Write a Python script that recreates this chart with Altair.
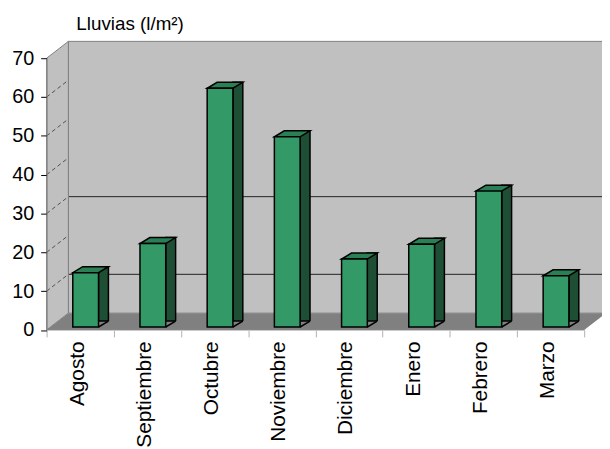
import altair as alt
import pandas as pd

# ---- data -------------------------------------------------------------
TITLE = "Lluvias (l/m²)"
months = ["Agosto", "Septiembre", "Octubre", "Noviembre",
          "Diciembre", "Enero", "Febrero", "Marzo"]
rain = [14, 21.5, 61.5, 49, 17.5, 21.3, 35, 13.2]
y_ticks = [0, 10, 20, 30, 40, 50, 60, 70]
back_lines = [10, 30]
side_lines = [10, 20, 30, 40, 50, 60]

# ---- geometry / style ------------------------------------------------
W, H = 543, 274.5          # front plane of the plot
DX, DY = 22, 17            # depth of the 3D box (px)
BAR_W, BAR_DX, BAR_DY = 26, 10, 6
SHIFT_X, SHIFT_Y = 5.5, 3  # bars sit a little behind the front plane
FONT = "Liberation Sans"
WALL, FLOOR = "#c0c0c0", "#808080"
FRONT, TOP, SIDE = "#339966", "#2a7f54", "#1e4f34"

df = pd.DataFrame({"month": months, "rain": rain})

yscale = alt.Scale(domain=[0, 70], nice=False, zero=True)
ax_y = alt.Axis(title=None, values=y_ticks, domainColor=FLOOR, tickColor="black",
                tickSize=6, labelFont=FONT, labelFontSize=20, labelColor="black",
                labelPadding=7, grid=False, zindex=1)
ax_x = alt.Axis(title=None, orient="bottom", tickBand="extent", domainColor="#c8c8c8",
                tickColor="#b0b0b0", tickSize=7, labelAngle=270, labelAlign="right",
                labelBaseline="middle", labelFont=FONT, labelFontSize=21,
                labelColor="black", labelPadding=4, labelOffset=-3, grid=False, zindex=1)
x_enc = alt.X("month:N", sort=months, scale=alt.Scale(paddingInner=0, paddingOuter=0), axis=ax_x)
y_enc = alt.Y("rain:Q", scale=yscale, axis=ax_y)

one = alt.Data(values=[{}])

# back wall
back = alt.Chart(one).mark_rect(fill=WALL, stroke=FLOOR, strokeWidth=1).encode(
    x=alt.value(DX), x2=alt.value(W + DX + 10), y=alt.value(-DY), y2=alt.value(H - DY))

back_grid = alt.Chart(pd.DataFrame({"v": back_lines})).mark_rule(
    color="#202020", strokeWidth=1, yOffset=-DY).encode(
    y=alt.Y("v:Q", scale=yscale, axis=ax_y), x=alt.value(DX), x2=alt.value(W + DX + 10))

# left side wall
side_df = pd.DataFrame({"px": [0, DX], "top": [0, -DY], "bot": [H, H - DY]})
side_wall = alt.Chart(side_df).mark_area(fill=WALL, stroke=FLOOR, strokeWidth=1,
                                         orient="vertical").encode(
    x=alt.X("px:Q", scale=None), y=alt.Y("top:Q", scale=None), y2=alt.Y2("bot"))

side_grid = alt.Chart(pd.DataFrame({"v": side_lines})).mark_rule(
    color="#505050", strokeDash=[4, 3], strokeWidth=1, y2Offset=-DY).encode(
    y=alt.Y("v:Q", scale=yscale, axis=ax_y), y2=alt.Y2("v"),
    x=alt.value(0), x2=alt.value(DX))

# floor
floor_df = pd.DataFrame({"px": [0, DX, W, W + DX],
                         "top": [H, H - DY, H - DY, H - DY],
                         "bot": [H, H, H, H - DY]})
floor = alt.Chart(floor_df).mark_area(fill=FLOOR, orient="vertical").encode(
    x=alt.X("px:Q", scale=None), y=alt.Y("top:Q", scale=None), y2=alt.Y2("bot"))

# bars
base = alt.Chart(df).encode(x=x_enc, y=y_enc)
hw = BAR_W / 2
side_face = base.mark_bar(width=BAR_DX, xOffset=SHIFT_X + hw + BAR_DX / 2,
                          yOffset=-(SHIFT_Y + BAR_DY), y2Offset=-SHIFT_Y,
                          fill=SIDE, stroke="black", strokeWidth=1.5)
cover_path = f"M {hw} 0 L {hw + BAR_DX} {-BAR_DY} L {hw + BAR_DX + 1.3} {-BAR_DY} L {hw + BAR_DX + 1.3} 1.2 L {hw} 1.2 Z"
cover = alt.Chart(df).transform_calculate(zero="0").mark_point(
    shape=cover_path, size=4, filled=True, fill=FLOOR, strokeWidth=0, opacity=1,
    xOffset=SHIFT_X, yOffset=-SHIFT_Y).encode(
    x=x_enc, y=alt.Y("zero:Q", scale=yscale, axis=ax_y))
diag_path = f"M {hw} 0 L {hw + BAR_DX} {-BAR_DY}"
diag = alt.Chart(df).transform_calculate(zero="0").mark_point(
    shape=diag_path, size=4, filled=False, stroke="black", strokeWidth=1.5, opacity=1,
    xOffset=SHIFT_X, yOffset=-SHIFT_Y).encode(
    x=x_enc, y=alt.Y("zero:Q", scale=yscale, axis=ax_y))
top_path = f"M {-hw} 0 L {hw} 0 L {hw + BAR_DX} {-BAR_DY} L {-hw + BAR_DX} {-BAR_DY} Z"
top_face = base.mark_point(shape=top_path, size=4, filled=True, fill=TOP, stroke="black",
                           strokeWidth=1.5, opacity=1, xOffset=SHIFT_X, yOffset=-SHIFT_Y)
front = base.mark_bar(width=BAR_W, xOffset=SHIFT_X, yOffset=-SHIFT_Y, y2Offset=-SHIFT_Y,
                      fill=FRONT, stroke="black", strokeWidth=1.5)

title = alt.Chart(one).mark_text(text=TITLE, align="left", baseline="alphabetic",
                                 font=FONT, fontSize=19, color="black").encode(
    x=alt.value(30), y=alt.value(-28))

chart = alt.layer(back, back_grid, side_wall, side_grid, floor,
                  side_face, cover, diag, top_face, front, title).properties(
    width=W, height=H, autosize="none",
    padding={"left": 39, "top": 48.5, "right": 18, "bottom": 116},
    background="white",
).configure_view(stroke=None).configure(font=FONT)

chart.save("out.html", embed_options={"renderer": "svg", "actions": False})
